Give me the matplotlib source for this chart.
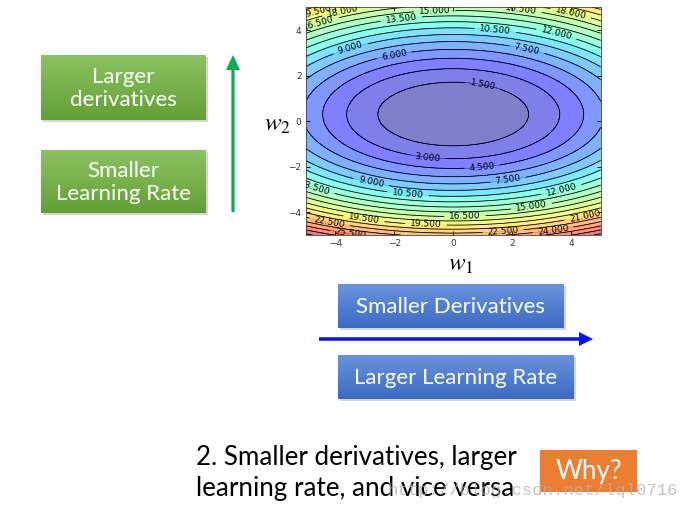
import numpy as np
import matplotlib
matplotlib.use("Agg")
import matplotlib.pyplot as plt
from matplotlib.colors import LinearSegmentedColormap
from matplotlib.patches import Rectangle, FancyArrow

# ---- data ----
w1_range = [-5, 5]
w2_range = [-5, 5]
coef_w1 = 0.23          # curvature along w1
coef_w2 = 0.77          # curvature along w2
center_w2 = 0.3         # minimum location along w2
cubic_w2 = 0.011        # asymmetry along w2
levels = np.arange(0, 31.5, 1.5)
ticks = [-4, -2, 0, 2, 4]
label_spots = [(-4.6, 4.74), (-3.75, 4.81), (-4.55, 4.3), (-0.63, 4.76), (-1.76, 4.46),
               (2.3, 4.9), (4.0, 4.85), (1.42, 3.94), (3.5, 3.85), (-3.45, 3.06),
               (-1.99, 2.84), (2.5, 3.19), (1.0, 1.56),
               (-0.86, -1.54), (0.99, -2.01), (1.86, -2.57), (-2.78, -2.68), (-1.54, -3.24),
               (-4.71, -2.96), (3.66, -2.96), (2.66, -3.8), (-3.03, -4.31), (0.4, -4.26),
               (-0.93, -4.6), (4.47, -4.24), (-4.2, -4.51), (-3.47, -4.92), (1.7, -4.95),
               (3.4, -4.85)]
green_labels = ["Larger\nderivatives", "Smaller\nLearning Rate"]
blue_labels = ["Smaller Derivatives", "Larger Learning Rate"]
bottom_text = "2. Smaller derivatives, larger\nlearning rate, and vice versa"
why_text = "Why?"
watermark = "http://blog.csdn.net/lql0716"

W, H = 691, 511
fig = plt.figure(figsize=(W / 100, H / 100), dpi=100)
bg = fig.add_axes([0, 0, 1, 1])
bg.set_xlim(0, W)
bg.set_ylim(H, 0)
bg.axis("off")

FONT = "Lato"


def grad_box(x0, y0, x1, y1, ctop, cbot, text, fs, shadow=True):
    if shadow:
        bg.add_patch(Rectangle((x0 + 2, y0 + 2), x1 - x0, y1 - y0, color="#888888",
                               alpha=0.35, zorder=1, lw=0))
    cmap = LinearSegmentedColormap.from_list("g", [ctop, cbot])
    grad = np.linspace(0, 1, 64).reshape(-1, 1)
    bg.imshow(grad, cmap=cmap, extent=[x0, x1, y1, y0], aspect="auto", zorder=2)
    bg.text((x0 + x1) / 2, (y0 + y1) / 2 + 1, text, color="white", fontsize=fs,
            family=FONT, ha="center", va="center", linespacing=1.15, zorder=3)


# green boxes
grad_box(41, 55, 206, 120, "#8cc263", "#62a034", green_labels[0], 16)
grad_box(41, 150, 206, 213, "#8cc263", "#62a034", green_labels[1], 16)
# green arrow
bg.add_patch(FancyArrow(233, 212, 0, -157, width=3.2, head_width=14, head_length=15,
                        length_includes_head=True, color="#00b050", lw=0, zorder=3))

# blue boxes
grad_box(338, 284, 564, 328, "#6a92dc", "#3a6cc4", blue_labels[0], 16)
grad_box(338, 355, 574, 399, "#6a92dc", "#3a6cc4", blue_labels[1], 16)
# blue arrow
bg.add_patch(FancyArrow(319, 339, 274, 0, width=3.5, head_width=14, head_length=14,
                        length_includes_head=True, color="#0a14f0", lw=0, zorder=3))

# bottom text
bg.text(196, 473, bottom_text, fontsize=18.7, family=FONT, color="black",
        ha="left", va="center", linespacing=1.3, zorder=3)
# why box
bg.add_patch(Rectangle((540, 450), 97, 42, color="#ed7d31", lw=0, zorder=2))
bg.text(588.5, 472, why_text, fontsize=18.7, family=FONT, color="white",
        ha="center", va="center", zorder=3)
# watermark
bg.text(388, 491, watermark, fontsize=12.4, family="Liberation Mono", color="#b0b0b0",
        alpha=0.75, ha="left", va="center", zorder=4)

# axis labels (math)
plt.rcParams["mathtext.fontset"] = "stix"
bg.text(278, 124, r"$w_2$", fontsize=18, ha="center", va="center", zorder=3)
bg.text(461, 264, r"$w_1$", fontsize=18, ha="center", va="center", zorder=3)

# ---- contour plot ----
ax = fig.add_axes([305.7 / W, 1 - 235 / H, 295 / W, 227.7 / H])
x = np.linspace(w1_range[0], w1_range[1], 300)
y = np.linspace(w2_range[0], w2_range[1], 300)
X, Y = np.meshgrid(x, y)
R = Y - center_w2
Z = coef_w1 * X ** 2 + coef_w2 * R ** 2 - cubic_w2 * R ** 3
ax.contourf(X, Y, Z, levels=levels, cmap="jet", alpha=0.5)
cs = ax.contour(X, Y, Z, levels=levels, colors="black", linewidths=0.6)
ax.clabel(cs, inline=True, fontsize=6.5, fmt="%.3f", manual=label_spots)
ax.set_xlim(w1_range)
ax.set_ylim(w2_range)
ax.set_xticks(ticks)
ax.set_yticks(ticks)
ax.tick_params(direction="in", top=True, right=True, labelsize=6.5, length=3,
               width=0.6, labelcolor="#333333", pad=3)
for s in ax.spines.values():
    s.set_linewidth(0.6)
    s.set_color("#444444")

fig.savefig("out.png", dpi=100)
